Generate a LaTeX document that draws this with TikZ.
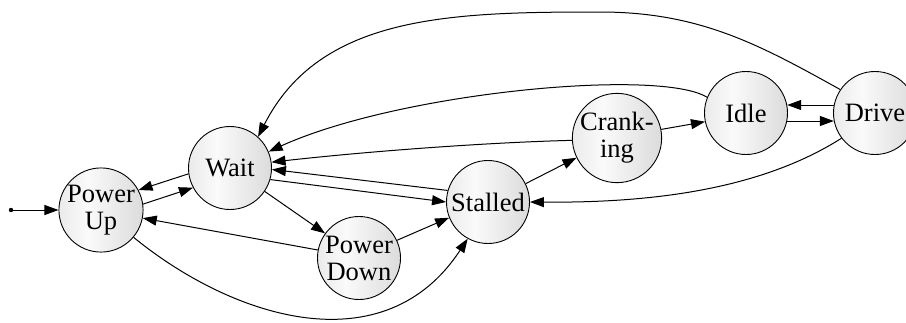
\documentclass[tikz,border=0pt]{standalone}
\usepackage{fontspec}
\setmainfont{Liberation Serif}
\usetikzlibrary{arrows.meta}
% soft left-to-right grey fill for the state circles
\pgfdeclarehorizontalshading{statefill}{100bp}{color(0bp)=(gray!16); color(25bp)=(gray!16); color(42bp)=(gray!4); color(75bp)=(gray!28); color(100bp)=(gray!28)}
\begin{document}
\begin{tikzpicture}[x=1pt,y=-1pt,
  state/.style={circle, draw, line width=0.9pt, minimum size=83pt, inner sep=0pt,
    shading=statefill, align=center, font=\fontsize{26.5}{27}\selectfont},
  edge/.style={line width=1pt, -{Triangle[length=14pt,width=10pt]}}]
\useasboundingbox (0,0) rectangle (906,322);

% states
\node[state] (PU) at (101,210) {Power\\Up};
\node[state] (W)  at (230,168) {Wait};
\node[state] (PD) at (359,258) {Power\\Down};
\node[state] (S)  at (488,202) {Stalled};
\node[state] (C)  at (617,138) {Crank-\\ing};
\node[state] (I)  at (746,113) {Idle};
\node[state] (D)  at (875,113) {Drive};

% initial marker
\coordinate (init) at (11,210);
\fill (init) circle (2.2pt);
\draw[edge] (init) -- (PU.west);

% transitions
\draw[edge] (W.188) -- (PU.28);
\draw[edge] (PU.8) -- (W.208);
\draw[edge] (W.326) -- (PD.144);
\draw[edge] (PD.169) -- (PU.349);
\draw[edge] (PD.25) -- (S.202);
\draw[edge] (PU.320) .. controls (235,320) and (385,365) .. (S.241);
\draw[edge] (W.344) -- (S.180);
\draw[edge] (S.164) -- (W.358);
\draw[edge] (S.26) -- (C.206);
\draw[edge] (C.183) .. controls (500,142) and (380,150) .. (W.8);
\draw[edge] (C.11) -- (I.192);
\draw[edge] (I.158) .. controls (660,68) and (400,92) .. (W.23);
\draw[edge] (I.349) -- (D.191);
\draw[edge] (D.169) -- (I.11);
\draw[edge] (D.146) .. controls (760,45) and (700,12) .. (600,12)
                    .. controls (450,12) and (320,15) .. (W.48);
\draw[edge] (D.217) .. controls (760,190) and (650,203) .. (S.0);
\end{tikzpicture}
\end{document}
